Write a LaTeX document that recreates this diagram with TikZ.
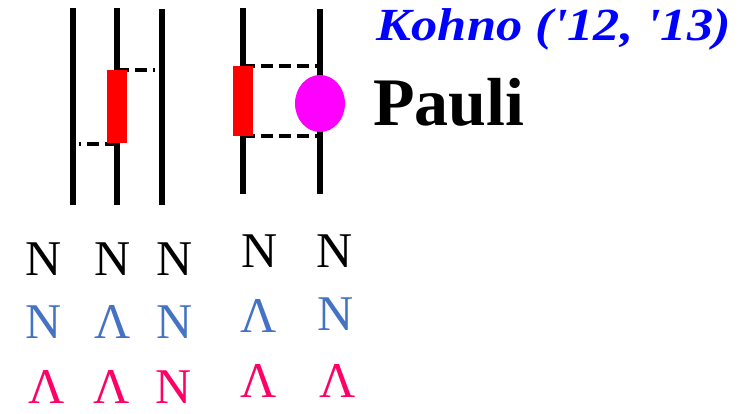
\documentclass[tikz,border=0pt]{standalone}
\usepackage{fontspec}
\usetikzlibrary{shapes.geometric}
\setmainfont{Liberation Serif}
\definecolor{kblue}{RGB}{0,0,255}
\definecolor{sblue}{RGB}{68,114,196}
\definecolor{pinkr}{RGB}{255,0,102}
\definecolor{magent}{RGB}{255,0,255}
\begin{document}
\begin{tikzpicture}[x=1pt,y=-1pt,
  wire/.style={line width=6pt,black},
  dsh/.style={line width=4.5pt,black,dash pattern=on 12pt off 6pt},
  redbox/.style={fill=red,draw=none},
  let/.style={anchor=base,inner sep=0pt,font=\fontsize{50}{50}\selectfont}]
\useasboundingbox (0,0) rectangle (743,413);
% wires
\coordinate (a1) at (72.7,8); \coordinate (a2) at (72.7,205);
\coordinate (b1) at (116.5,8); \coordinate (b2) at (116.5,205);
\coordinate (c1) at (161.5,9); \coordinate (c2) at (161.5,205);
\coordinate (d1) at (242.7,8); \coordinate (d2) at (242.7,194);
\coordinate (e1) at (320,9); \coordinate (e2) at (320,194);
\draw[wire] (a1) -- (a2);
\draw[wire] (b1) -- (b2);
\draw[wire] (c1) -- (c2);
\draw[wire] (d1) -- (d2);
\draw[wire] (e1) -- (e2);
% dashed
\coordinate (t1s) at (116.5,70); \coordinate (t1e) at (155,70);
\coordinate (b1s) at (79,144); \coordinate (b1e) at (116.5,144);
\coordinate (t2s) at (242.7,66); \coordinate (t2e) at (320,66);
\coordinate (b2s) at (242.7,136); \coordinate (b2e) at (320,136);
\draw[dsh] (t1s) -- (t1e);
\draw[dsh] (b1e) -- (b1s);
\draw[dsh] (t2s) -- (t2e);
\draw[dsh] (b2s) -- (b2e);
% boxes
\fill[redbox] (106.7,70) rectangle (126.7,143);
\fill[redbox] (232.7,66) rectangle (252.7,136);
\node[ellipse,fill=magent,minimum width=50pt,minimum height=57pt,inner sep=0pt] (pc) at (320,103.5) {};
% texts
\node[anchor=base east,inner sep=0pt,text=kblue,xscale=1.14,transform shape,font=\fontsize{46}{46}\selectfont\bfseries\itshape] (kohno) at (731,40) {Kohno (\textquotesingle12, \textquotesingle13)};
\node[anchor=base west,inner sep=0pt,font=\fontsize{68}{68}\selectfont\bfseries] (pauli) at (373,125) {Pauli};
% letters row 1
\node[let] (r1a) at (44,275) {N};
\node[let] (r1b) at (112.5,275) {N};
\node[let] (r1c) at (175,275) {N};
\node[let] (r1d) at (259.5,267) {N};
\node[let] (r1e) at (335,267) {N};
% row 2
\node[let,text=sblue] (r2a) at (44,338) {N};
\node[let,text=sblue] (r2b) at (113,338) {Λ};
\node[let,text=sblue] (r2c) at (175,338) {N};
\node[let,text=sblue] (r2d) at (259,332) {Λ};
\node[let,text=sblue] (r2e) at (336,330) {N};
% row 3
\node[let,text=pinkr] (r3a) at (47,403) {Λ};
\node[let,text=pinkr] (r3b) at (112,403) {Λ};
\node[let,text=pinkr] (r3c) at (174,403) {N};
\node[let,text=pinkr] (r3d) at (259,397) {Λ};
\node[let,text=pinkr] (r3e) at (338,397) {Λ};
\end{tikzpicture}
\end{document}
